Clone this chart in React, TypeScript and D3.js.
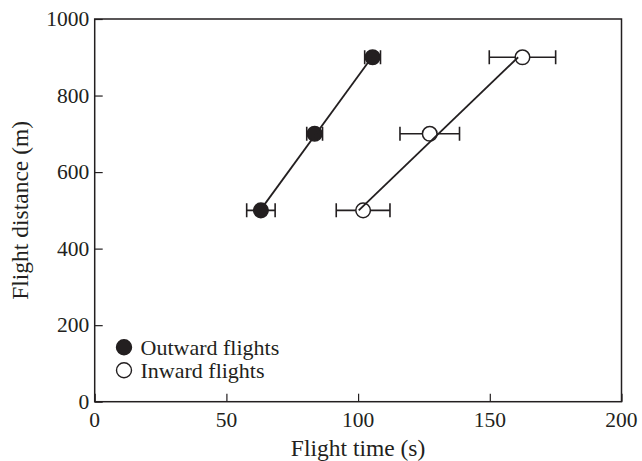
import React, { useEffect, useRef } from "react";
import { select, scaleLinear, axisTop, axisRight, line } from "d3";

const distances = [500, 700, 900];
const outwardTime = [63.1, 83.5, 105.5];
const outwardErr = [5.4, 3, 3];
const inwardTime = [101.9, 127.2, 162.4];
const inwardErr = [10.2, 11.3, 12.6];
const xTicks = [0, 50, 100, 150, 200];
const yTicks = [0, 200, 400, 600, 800, 1000];
const legendLabels = ["Outward flights", "Inward flights"];

const ink = "#231f20";
const font = "'Liberation Serif', 'Times New Roman', serif";

// least squares fit of time on distance, returns time at the end distances
function fitLine(times: number[]) {
  const n = distances.length;
  const my = distances.reduce((a, b) => a + b, 0) / n;
  const mx = times.reduce((a, b) => a + b, 0) / n;
  let sxy = 0, syy = 0;
  distances.forEach((d, i) => {
    sxy += (d - my) * (times[i] - mx);
    syy += (d - my) * (d - my);
  });
  const slope = sxy / syy;
  const ends = [distances[0], distances[n - 1]];
  return ends.map((d) => ({ t: mx + slope * (d - my), d }));
}

function App() {
  const svgRef = useRef<SVGSVGElement>(null);
  const width = 642;
  const height = 461;
  const margin = { top: 19, right: 20.5, bottom: 59.3, left: 94.7 };

  useEffect(() => {
    const svg = select(svgRef.current);
    svg.selectAll("*").remove();
    const innerW = width - margin.left - margin.right;
    const innerH = height - margin.top - margin.bottom;

    const x = scaleLinear().domain([0, 200]).range([0, innerW]);
    const y = scaleLinear().domain([0, 1000]).range([innerH, 0]);

    const g = svg.append("g").attr("transform", `translate(${margin.left},${margin.top})`);

    // frame
    g.append("rect")
      .attr("width", innerW)
      .attr("height", innerH)
      .attr("fill", "none")
      .attr("stroke", ink)
      .attr("stroke-width", 1.5);

    const xAxis = g.append("g")
      .attr("transform", `translate(0,${innerH})`)
      .call(axisTop(x).tickValues(xTicks).tickSize(8).tickFormat(() => ""));
    xAxis.select(".domain").remove();
    xAxis.selectAll("line").attr("stroke", ink).attr("stroke-width", 1.2);

    const yAxis = g.append("g")
      .call(axisRight(y).tickValues(yTicks).tickSize(8).tickFormat(() => ""));
    yAxis.select(".domain").remove();
    yAxis.selectAll("line").attr("stroke", ink).attr("stroke-width", 1.2);

    // tick labels
    g.selectAll(".xlab")
      .data(xTicks)
      .join("text")
      .attr("class", "xlab")
      .attr("x", (d) => x(d))
      .attr("y", innerH + 25)
      .attr("text-anchor", "middle")
      .attr("font-family", font)
      .attr("font-size", 21.5)
      .attr("fill", ink)
      .text((d) => d);

    g.selectAll(".ylab")
      .data(yTicks)
      .join("text")
      .attr("class", "ylab")
      .attr("x", -5.5)
      .attr("y", (d) => y(d))
      .attr("dy", "0.34em")
      .attr("text-anchor", "end")
      .attr("font-family", font)
      .attr("font-size", 21.5)
      .attr("fill", ink)
      .text((d) => d);

    // axis titles
    g.append("text")
      .attr("x", innerW / 2)
      .attr("y", innerH + 54.5)
      .attr("text-anchor", "middle")
      .attr("font-family", font)
      .attr("font-size", 23.5)
      .attr("fill", ink)
      .text("Flight time (s)");

    g.append("text")
      .attr("transform", `translate(${28 - margin.left},${innerH / 2}) rotate(-90)`)
      .attr("text-anchor", "middle")
      .attr("font-family", font)
      .attr("font-size", 23.5)
      .attr("fill", ink)
      .text("Flight distance (m)");

    const series = [
      { times: outwardTime, errs: outwardErr, fill: ink },
      { times: inwardTime, errs: inwardErr, fill: "#fff" },
    ];

    const path = line<{ t: number; d: number }>()
      .x((p) => x(p.t))
      .y((p) => y(p.d));

    series.forEach((s) => {
      const sg = g.append("g");
      const pts = distances.map((d, i) => ({ d, t: s.times[i], e: s.errs[i] }));
      // error bars
      sg.selectAll(".eb")
        .data(pts)
        .join("path")
        .attr("class", "eb")
        .attr("fill", "none")
        .attr("stroke", ink)
        .attr("stroke-width", 1.6)
        .attr("d", (p) => {
          const x0 = x(p.t - p.e), x1 = x(p.t + p.e), yy = y(p.d);
          return `M${x0},${yy}H${x1}M${x0},${yy - 7}V${yy + 7}M${x1},${yy - 7}V${yy + 7}`;
        });
      sg.selectAll("circle")
        .data(pts)
        .join("circle")
        .attr("cx", (p) => x(p.t))
        .attr("cy", (p) => y(p.d))
        .attr("r", 7.3)
        .attr("fill", s.fill)
        .attr("stroke", ink)
        .attr("stroke-width", 1.5);
      sg.append("path")
        .datum(fitLine(s.times))
        .attr("fill", "none")
        .attr("stroke", ink)
        .attr("stroke-width", 1.8)
        .attr("d", path);
    });

    // legend
    const leg = g.append("g").attr("transform", `translate(${124 - margin.left},${347.3 - margin.top})`);
    legendLabels.forEach((label, i) => {
      leg.append("circle")
        .attr("cx", 0)
        .attr("cy", i * 23)
        .attr("r", 7.5)
        .attr("fill", i === 0 ? ink : "#fff")
        .attr("stroke", ink)
        .attr("stroke-width", 1.4);
      leg.append("text")
        .attr("x", 16.5)
        .attr("y", i * 23 + 7.5)
        .attr("font-family", font)
        .attr("font-size", 22)
        .attr("fill", ink)
        .text(label);
    });
  }, []);

  return (
    <svg
      ref={svgRef}
      width={width}
      height={height}
      style={{ position: "absolute", left: 0, top: 0, background: "#fff" }}
    />
  );
}

export default App;
